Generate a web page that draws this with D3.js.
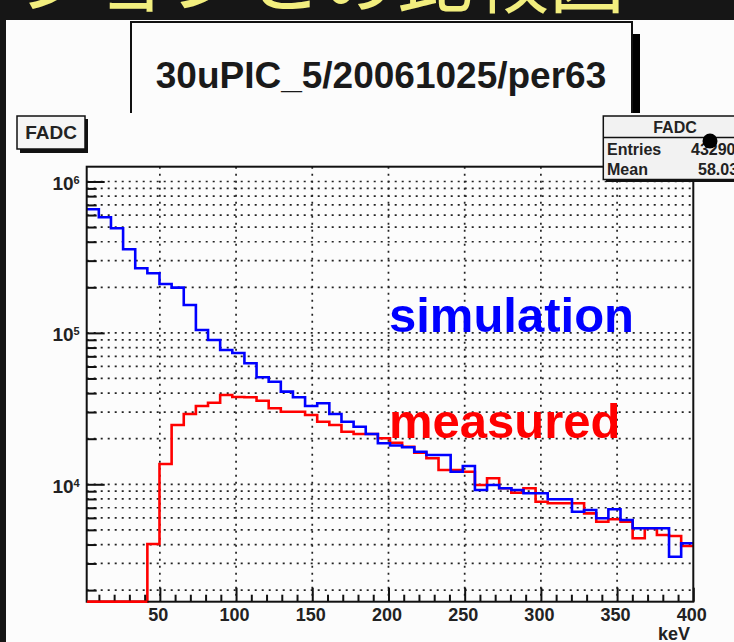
<!DOCTYPE html>
<html>
<head>
<meta charset="utf-8">
<script src="https://cdn.jsdelivr.net/npm/d3@7"></script>
<style>
  html, body { margin: 0; padding: 0; background: #161616; }
  svg { display: block; }
</style>
</head>
<body>
<svg id="chart" width="734" height="642"></svg>
<script>
// Energy spectrum of FADC: 50 bins spanning 2..400 keV
const xMin = 2, xMax = 400, nBins = 50;

const simulation = [
  655000, 580000, 491000, 357000, 267000, 247500, 210400, 198900, 152900, 104500,
  89800, 77100, 73650, 63000, 50900, 47600, 40900, 37550, 32900, 34300,
  29130, 25910, 24010, 21490, 18660, 18040, 17560, 16420, 15620, 15620,
  12110, 13210, 9170, 9890, 9410, 9170, 8720, 8720, 7960, 7960,
  6590, 6760, 5960, 6840, 5810, 5120, 5120, 5120, 3325, 4076
];

const measured = [
  0, 0, 0, 0, 0, 4033, 13620, 24640, 29130, 32900,
  34590, 38890, 37720, 37550, 35660, 31770, 30170, 30170, 28690, 25910,
  24640, 22250, 21490, 21490, 20130, 18830, 17710, 16170, 14850, 12430,
  12430, 12110, 9890, 10950, 9410, 8800, 9410, 7670, 7490, 7490,
  7490, 6430, 5660, 5870, 5660, 4400, 5120, 4625, 4555, 3913
];

const xMajorTicks = [50, 100, 150, 200, 250, 300, 350, 400];
const xMinorTicks = [10, 20, 30, 40, 60, 70, 80, 90, 110, 120, 130, 140, 160, 170, 180, 190,
  210, 220, 230, 240, 260, 270, 280, 290, 310, 320, 330, 340, 360, 370, 380, 390];
const yMajorTicks = [1e4, 1e5, 1e6];
const yMinorTicks = [2e3, 3e3, 4e3, 5e3, 6e3, 7e3, 8e3, 9e3,
  2e4, 3e4, 4e4, 5e4, 6e4, 7e4, 8e4, 9e4,
  2e5, 3e5, 4e5, 5e5, 6e5, 7e5, 8e5, 9e5];
const yDomain = [1677, 1.252e6];

const histTitle = "30uPIC_5/20061025/per63";
const histName = "FADC";
const statEntries = "43290";
const statMean = "58.03";
const xTitle = "keV";
const slideHeading = "シミュレーションとの比較図";

const svg = d3.select("#chart");
const W = 734, H = 642;
const plot = { left: 86.7, right: 693.3, top: 166.7, bottom: 601.7 };

// slide background and heading (only its lower edge shows above the canvas)
svg.append("rect").attr("width", W).attr("height", H).attr("fill", "#161616");
svg.append("text")
  .attr("x", 625).attr("y", 7)
  .attr("text-anchor", "end")
  .attr("font-family", "'Noto Sans CJK JP', sans-serif")
  .attr("font-weight", "normal")
  .attr("font-size", 76)
  .attr("fill", "#f2ee7e")
  .text(slideHeading);

// ROOT canvas
svg.append("rect").attr("x", 6).attr("y", 20).attr("width", W - 6).attr("height", H - 20).attr("fill", "#fcfcfc");

// title pave
svg.append("rect").attr("x", 633).attr("y", 34).attr("width", 7).attr("height", 79).attr("fill", "#000");
svg.append("path")
  .attr("d", "M131,113 V22 H632 V113")
  .attr("fill", "none").attr("stroke", "#111").attr("stroke-width", 2);
svg.append("text")
  .attr("x", 381).attr("y", 88)
  .attr("text-anchor", "middle")
  .attr("font-family", "'Liberation Sans', Arial, sans-serif")
  .attr("font-weight", "bold").attr("font-size", 37)
  .attr("fill", "#1a1a1a")
  .text(histTitle);

// histogram name box
svg.append("rect").attr("x", 20).attr("y", 119).attr("width", 68).attr("height", 34).attr("fill", "#111");
svg.append("rect").attr("x", 17).attr("y", 116).attr("width", 68).attr("height", 33)
  .attr("fill", "#f5f5f5").attr("stroke", "#111").attr("stroke-width", 1.5);
svg.append("text")
  .attr("x", 51).attr("y", 139)
  .attr("text-anchor", "middle")
  .attr("font-family", "'Liberation Sans', Arial, sans-serif")
  .attr("font-weight", "bold").attr("font-size", 19)
  .attr("fill", "#222")
  .text(histName);

// scales
const x = d3.scaleLinear().domain([xMin, xMax]).range([plot.left, plot.right]);
const y = d3.scaleLog().domain(yDomain).range([plot.bottom, plot.top]);

const defs = svg.append("defs");
defs.append("clipPath").attr("id", "plotClip")
  .append("rect")
  .attr("x", plot.left).attr("y", plot.top - 2)
  .attr("width", plot.right - plot.left).attr("height", plot.bottom - plot.top + 4);

// dotted grid
const grid = svg.append("g").attr("stroke", "#222").attr("stroke-width", 1.7).attr("stroke-dasharray", "2,5");
grid.selectAll("line.h")
  .data(yMajorTicks.concat(yMinorTicks))
  .join("line")
  .attr("class", "h")
  .attr("x1", plot.left).attr("x2", plot.right)
  .attr("y1", d => y(d)).attr("y2", d => y(d));
grid.selectAll("line.v")
  .data(xMajorTicks.filter(d => d < xMax))
  .join("line")
  .attr("class", "v")
  .attr("x1", d => x(d)).attr("x2", d => x(d))
  .attr("y1", plot.top).attr("y2", plot.bottom);

// histograms as step outlines
const binWidth = (xMax - xMin) / nBins;
function stepPoints(values) {
  const pts = values.map((v, i) => [xMin + i * binWidth, v]);
  pts.push([xMin + nBins * binWidth, values[values.length - 1]]);
  return pts;
}
const yOf = v => (v > 0 ? Math.min(Math.max(y(v), plot.top), plot.bottom) : plot.bottom);
const stepLine = d3.line()
  .x(d => x(d[0]))
  .y(d => yOf(d[1]))
  .curve(d3.curveStepAfter);

const hists = svg.append("g").attr("clip-path", "url(#plotClip)").attr("fill", "none").attr("stroke-width", 2.6);
hists.append("path").attr("d", stepLine(stepPoints(measured))).attr("stroke", "#ff0000");
hists.append("path").attr("d", stepLine(stepPoints(simulation))).attr("stroke", "#0000ff");

// axes: ticks drawn inward like ROOT
const axisFont = "'Liberation Sans', Arial, sans-serif";

const yMinorAxis = svg.append("g")
  .attr("transform", `translate(${plot.left},0)`)
  .call(d3.axisLeft(y).tickValues(yMinorTicks).tickSize(-10).tickFormat(""));
const yMajorAxis = svg.append("g")
  .attr("transform", `translate(${plot.left},0)`)
  .call(d3.axisLeft(y).tickValues(yMajorTicks).tickSize(-18).tickPadding(7).tickFormat(""));
yMajorAxis.selectAll(".tick text").each(function (d) {
  const t = d3.select(this);
  t.attr("font-family", axisFont).attr("font-weight", "bold").attr("font-size", 19)
    .attr("fill", "#222").attr("dy", "0.42em");
  t.append("tspan").text("10");
  t.append("tspan").attr("dy", "-0.55em").attr("font-size", 11).text(Math.round(Math.log10(d)));
});

const xMinorAxis = svg.append("g")
  .attr("transform", `translate(0,${plot.bottom})`)
  .call(d3.axisBottom(x).tickValues(xMinorTicks).tickSize(-7).tickFormat(""));
const xMajorAxis = svg.append("g")
  .attr("transform", `translate(0,${plot.bottom})`)
  .call(d3.axisBottom(x).tickValues(xMajorTicks).tickSize(-14).tickPadding(7).tickFormat(d3.format("d")));
xMajorAxis.selectAll(".tick text")
  .attr("font-family", axisFont).attr("font-weight", "bold").attr("font-size", 18)
  .attr("fill", "#222").attr("dx", -2);

[yMinorAxis, yMajorAxis, xMinorAxis, xMajorAxis].forEach(g => {
  g.select(".domain").remove();
  g.selectAll(".tick line").attr("stroke", "#111").attr("stroke-width", 2);
});

// frame
svg.append("rect")
  .attr("x", plot.left).attr("y", plot.top)
  .attr("width", plot.right - plot.left).attr("height", plot.bottom - plot.top)
  .attr("fill", "none").attr("stroke", "#111").attr("stroke-width", 2);

// red zero-level segment sits on top of the frame
svg.append("g").attr("clip-path", "url(#plotClip)")
  .append("path")
  .attr("d", stepLine(stepPoints(measured).filter(d => d[1] === 0).concat([[xMin + 5 * binWidth, 0]])))
  .attr("fill", "none").attr("stroke", "#ff0000").attr("stroke-width", 2.6);

svg.append("text")
  .attr("x", 690).attr("y", 640)
  .attr("text-anchor", "end")
  .attr("font-family", axisFont).attr("font-weight", "bold").attr("font-size", 18)
  .attr("fill", "#222")
  .text(xTitle);

// statistics box
svg.append("rect").attr("x", 606).attr("y", 119).attr("width", 140).attr("height", 63).attr("fill", "#111");
svg.append("rect").attr("x", 603.3).attr("y", 116).attr("width", 140).attr("height", 63.5)
  .attr("fill", "#f2f2f2").attr("stroke", "#111").attr("stroke-width", 1.5);
svg.append("line").attr("x1", 603.3).attr("x2", 734).attr("y1", 137.5).attr("y2", 137.5)
  .attr("stroke", "#111").attr("stroke-width", 1.5);
const statText = (s, xx, yy, anchor) => svg.append("text")
  .attr("x", xx).attr("y", yy).attr("text-anchor", anchor || "start")
  .attr("font-family", axisFont).attr("font-weight", "bold").attr("font-size", 16)
  .attr("fill", "#222").text(s);
statText(histName, 675, 133, "middle");
statText("Entries", 607, 155);
statText(statEntries, 691, 155);
statText("Mean", 607, 175);
statText(statMean, 698, 175);

svg.append("circle").attr("cx", 710).attr("cy", 141).attr("r", 7.5).attr("fill", "#000");

// series labels
svg.append("text")
  .attr("x", 389).attr("y", 332)
  .attr("font-family", axisFont).attr("font-weight", "bold").attr("font-size", 49)
  .attr("fill", "#0000ff")
  .text("simulation");
svg.append("text")
  .attr("x", 389).attr("y", 438)
  .attr("font-family", axisFont).attr("font-weight", "bold").attr("font-size", 49)
  .attr("fill", "#ff0000")
  .text("measured");
</script>
</body>
</html>
